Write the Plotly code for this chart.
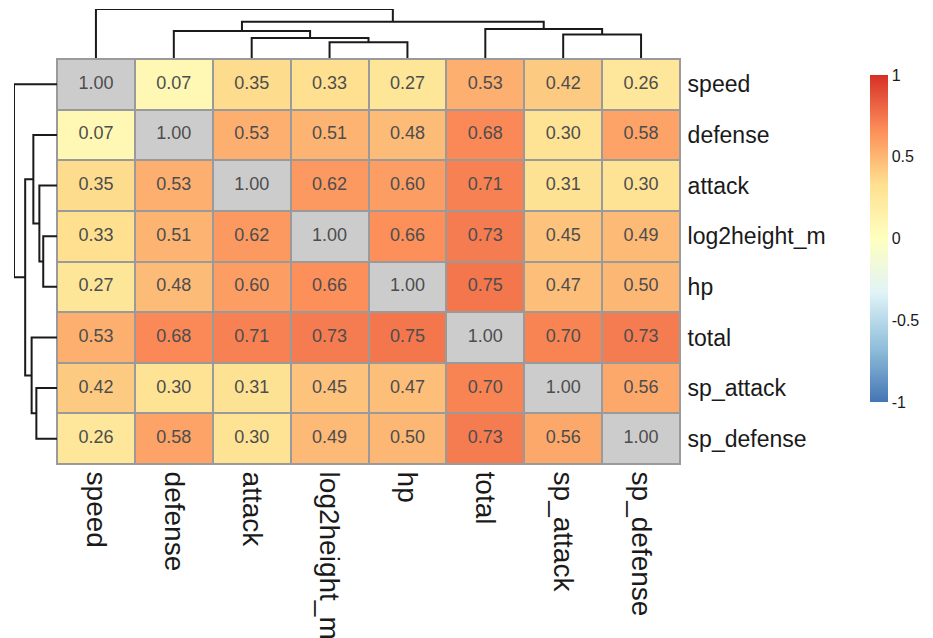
import plotly.graph_objects as go

# the page body adds an 8px margin; lay out in screen pixels and shift by it
OFF = 8
W, H = 933 - OFF, 638 - OFF

labels = ["speed", "defense", "attack", "log2height_m", "hp", "total", "sp_attack", "sp_defense"]
corr = [
    [1.00, 0.07, 0.35, 0.33, 0.27, 0.53, 0.42, 0.26],
    [0.07, 1.00, 0.53, 0.51, 0.48, 0.68, 0.30, 0.58],
    [0.35, 0.53, 1.00, 0.62, 0.60, 0.71, 0.31, 0.30],
    [0.33, 0.51, 0.62, 1.00, 0.66, 0.73, 0.45, 0.49],
    [0.27, 0.48, 0.60, 0.66, 1.00, 0.75, 0.47, 0.50],
    [0.53, 0.68, 0.71, 0.73, 0.75, 1.00, 0.70, 0.73],
    [0.42, 0.30, 0.31, 0.45, 0.47, 0.70, 1.00, 0.56],
    [0.26, 0.58, 0.30, 0.49, 0.50, 0.73, 0.56, 1.00],
]
# dendrogram merges (left, right, relative height); nodes named "n0".."n6"
merges = [
    ("log2height_m", "hp", 0.32),
    ("sp_attack", "sp_defense", 0.48),
    ("attack", "n0", 0.41),
    ("defense", "n2", 0.55),
    ("total", "n1", 0.59),
    ("n3", "n4", 0.74),
    ("speed", "n5", 1.00),
]
cbar_ticks = [1, 0.5, 0, -0.5, -1]
cbar_text = ["1", "0.5", "0", "-0.5", "-1"]

colorscale = [
    [0.0, "#4575B4"], [1 / 6, "#91BFDB"], [2 / 6, "#E0F3F8"], [3 / 6, "#FFFFBF"],
    [4 / 6, "#FEE090"], [5 / 6, "#FC8D59"], [1.0, "#D73027"],
]

SANS = "Liberation Sans, Arial, sans-serif"

n = len(labels)
idx = list(range(n))
z_main = [[None if i == j else corr[i][j] for j in idx] for i in idx]
z_diag = [[1 if i == j else None for j in idx] for i in idx]


def px_x(p):
    return min(1.0, max(0.0, (p - OFF) / W))


def px_y(p):
    return min(1.0, max(0.0, 1 - (p - OFF) / H))


# heatmap placement (screen pixels)
HX0, HX1, HY0, HY1 = 57, 680, 59, 464

fig = go.Figure()
fig.add_trace(go.Heatmap(
    z=z_main, x=idx, y=idx, zmin=-1, zmax=1, colorscale=colorscale,
    xgap=2, ygap=2, hoverongaps=False,
    colorbar=dict(
        x=px_x(870), xanchor="left", y=px_y(75), yanchor="top",
        len=402 - 75, lenmode="pixels", thickness=18, thicknessmode="pixels",
        xpad=0, ypad=0, outlinewidth=0, ticks="",
        tickvals=cbar_ticks, ticktext=cbar_text,
        tickfont=dict(family=SANS, size=16, color="#1a1a1a"),
    ),
))
fig.add_trace(go.Heatmap(
    z=z_diag, x=idx, y=idx, zmin=0, zmax=1,
    colorscale=[[0, "#CCCCCC"], [1, "#CCCCCC"]], showscale=False,
    xgap=2, ygap=2, hoverongaps=False,
))
tx, ty, tt = [], [], []
for i in idx:
    for j in idx:
        tx.append(j)
        ty.append(i)
        tt.append(f"{corr[i][j]:.2f}")
fig.add_trace(go.Scatter(
    x=tx, y=ty, text=tt, mode="text",
    textfont=dict(family=SANS, size=18, color="#4D4D4D"),
    hoverinfo="skip", showlegend=False,
))

# dendrogram geometry from merges
pos = {lab: float(k) for k, lab in enumerate(labels)}
hgt = {lab: 0.0 for lab in labels}
seg_pos, seg_h = [], []
for k, (a, b, h) in enumerate(merges):
    pa, pb = pos[a], pos[b]
    seg_pos += [pa, pa, pb, pb, None]
    seg_h += [hgt[a], h, h, hgt[b], None]
    name = f"n{k}"
    pos[name] = (pa + pb) / 2
    hgt[name] = h
root = f"n{len(merges) - 1}"
seg_pos += [pos[root], pos[root], None]
seg_h += [hgt[root], hgt[root] * 1.04, None]

line = dict(color="#1a1a1a", width=2)
fig.add_trace(go.Scatter(x=seg_pos, y=seg_h, mode="lines", line=line, cliponaxis=False,
                         xaxis="x2", yaxis="y2", hoverinfo="skip", showlegend=False))
fig.add_trace(go.Scatter(x=seg_h, y=seg_pos, mode="lines", line=line, cliponaxis=False,
                         xaxis="x3", yaxis="y3", hoverinfo="skip", showlegend=False))

# grey cell-border background behind the heatmap only
fig.add_shape(type="rect", xref="x domain", yref="y domain", x0=0, x1=1, y0=0, y1=1,
              fillcolor="#9A9A9A", line=dict(width=0), layer="below")

fig.update_layout(
    width=W, height=H, margin=dict(l=0, r=0, t=0, b=0, autoexpand=False),
    paper_bgcolor="white", plot_bgcolor="white",
    xaxis=dict(
        domain=[px_x(HX0), px_x(HX1)], range=[-0.5, n - 0.5],
        tickvals=idx, ticktext=labels, tickangle=90, ticks="", side="bottom",
        tickfont=dict(family=SANS, size=28, color="#1a1a1a"),
        showgrid=False, zeroline=False, showline=True, mirror=True,
        linecolor="#9A9A9A", linewidth=1, ticklabelstandoff=1, automargin=False,
    ),
    yaxis=dict(
        domain=[px_y(HY1), px_y(HY0)], range=[n - 0.5, -0.5],
        tickvals=idx, ticktext=labels, ticks="", side="right",
        tickfont=dict(family=SANS, size=23, color="#1a1a1a"),
        showgrid=False, zeroline=False, showline=True, mirror=True,
        linecolor="#9A9A9A", linewidth=1, ticklabelstandoff=2, automargin=False,
    ),
    xaxis2=dict(domain=[px_x(HX0), px_x(HX1)], range=[-0.5, n - 0.5], anchor="y2",
                visible=False, showgrid=False, zeroline=False),
    yaxis2=dict(domain=[px_y(58), px_y(9)], range=[0, 49 / 49], anchor="x2",
                visible=False, showgrid=False, zeroline=False),
    xaxis3=dict(domain=[px_x(14), px_x(57)], range=[1.0, 0], anchor="y3",
                visible=False, showgrid=False, zeroline=False),
    yaxis3=dict(domain=[px_y(HY1), px_y(HY0)], range=[n - 0.5, -0.5], anchor="x3",
                visible=False, showgrid=False, zeroline=False),
)

fig.write_html("out.html")
